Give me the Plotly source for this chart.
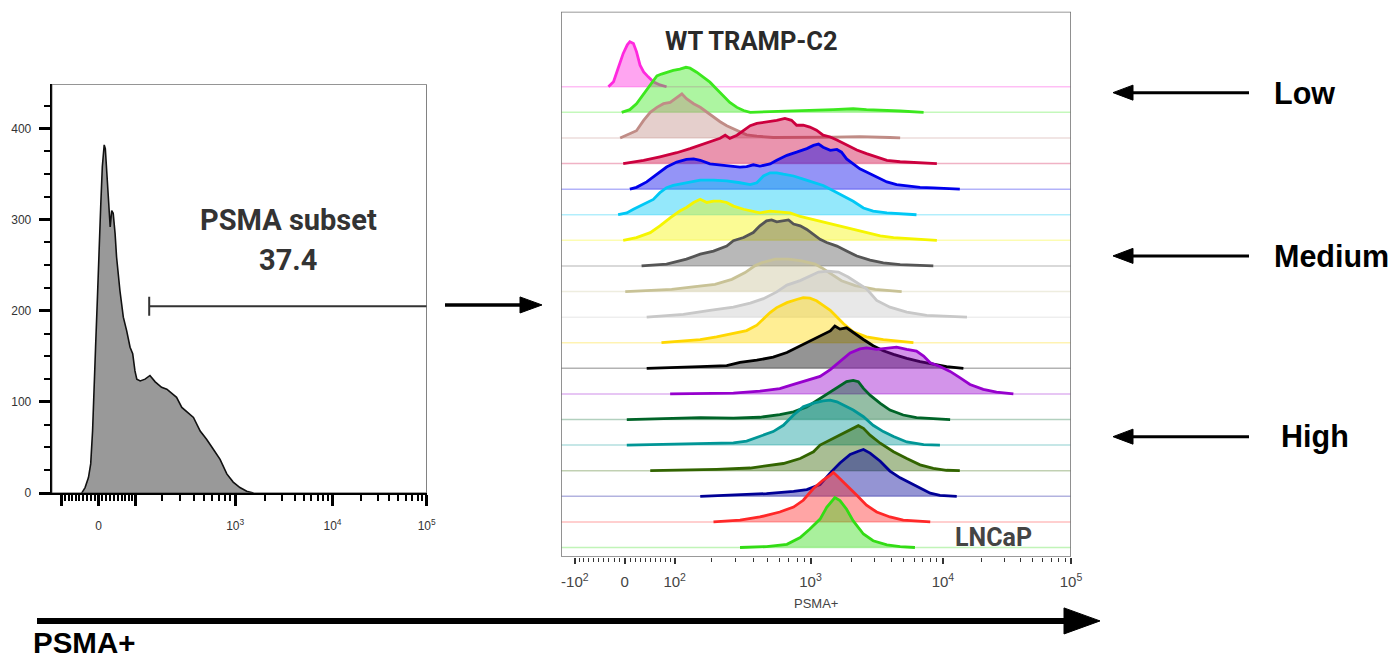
import numpy as np
import plotly.graph_objects as go

# The page body margin is removed after load. The rendered page area maps onto the 1390x662
# picture with a slight shrink, so the page is laid out at VIEW_W x VIEW_H and all positions
# below are given in target-picture pixels.
PAGE_MARGIN = 0
VIEW_W, VIEW_H = 1401, 670
TARGET_W, TARGET_H = 1390, 662
FIG_W, FIG_H = VIEW_W - 2 * PAGE_MARGIN, VIEW_H - 2 * PAGE_MARGIN

# ---------------- data ----------------
# Left panel: PSMA+ histogram (x in logicle display channels 0-1000, y in cell counts)
left_channel = [80, 89, 98, 104, 109, 113, 117, 122, 126, 131, 135, 140, 143, 147, 151, 156, 160, 164, 169, 173,
                182, 191, 200, 209, 216, 222, 227, 236, 249, 262, 276, 293, 307, 320, 333, 347, 360, 378, 396, 413,
                431, 449, 467, 484, 502, 520, 538]
left_count = [0, 6, 17, 32, 68, 105, 160, 215, 270, 318, 358, 382, 378, 350, 314, 292, 310, 307, 285, 259,
              222, 193, 178, 160, 153, 134, 125, 123, 125, 129, 122, 116, 114, 109, 105, 94, 89, 83, 68, 59,
              48, 37, 21, 12, 6, 2, 0]
gate_start_channel = 260
gate_end_channel = 1000
gate_level = 205
gate_name = "PSMA subset"
gate_percent = "37.4"
left_y_ticks = [0, 100, 200, 300, 400]
left_y_minor = list(range(0, 450, 25))

# Right panel: layered histograms, top row (WT TRAMP-C2) to bottom row (LNCaP)
# x = logicle display channel (0-1000), h = normalized count (% of mode)
ch_pink = [93, 103, 112, 122, 130, 135, 142, 148, 155, 162, 171, 181, 194, 207]
h_pink = [0, 11, 41, 74, 93, 100, 96, 78, 48, 33, 22, 11, 4, 0]
ch_green = [119, 135, 148, 162, 175, 188, 197, 207, 220, 233, 245, 253, 266, 279, 292, 305, 318, 331, 345, 358,
            371, 442, 469, 534, 573, 599, 665, 711]
h_green = [0, 6, 19, 41, 63, 81, 85, 89, 93, 96, 100, 98, 89, 78, 67, 52, 37, 22, 11, 4,
           0, 2, 4, 6, 8, 6, 3, 0]
ch_rosy = [116, 135, 148, 162, 175, 188, 201, 214, 227, 237, 246, 260, 273, 286, 299, 312, 325, 338, 351, 364,
           384, 416, 534, 586, 645, 665]
h_rosy = [0, 9, 16, 39, 57, 68, 76, 79, 90, 98, 87, 76, 68, 57, 46, 36, 27, 20, 13, 7,
          4, 1, 2, 3, 1, 0]
ch_crimson = [122, 162, 194, 227, 253, 273, 292, 312, 322, 331, 345, 358, 371, 384, 397, 410, 423, 439, 452, 462,
              475, 488, 501, 514, 528, 541, 560, 580, 599, 619, 639, 665, 730, 737]
h_crimson = [0, 7, 15, 24, 33, 41, 47, 56, 63, 56, 63, 74, 84, 89, 91, 93, 96, 100, 96, 85,
             85, 81, 74, 63, 59, 52, 41, 30, 22, 15, 7, 4, 1, 0]
ch_blue = [135, 148, 168, 181, 194, 207, 227, 246, 260, 273, 292, 312, 331, 351, 364, 377, 390, 410, 423, 443,
           462, 482, 495, 505, 514, 528, 541, 550, 560, 573, 586, 599, 619, 639, 658, 678, 704, 730, 763, 782]
h_blue = [0, 4, 16, 27, 38, 49, 60, 66, 67, 64, 56, 54, 51, 49, 50, 54, 51, 56, 64, 75,
          82, 90, 97, 100, 93, 86, 88, 82, 67, 56, 45, 38, 27, 16, 10, 7, 4, 3, 1, 0]
ch_cyan = [112, 129, 142, 162, 181, 194, 207, 220, 246, 273, 299, 325, 351, 371, 384, 397, 410, 423, 436, 456,
           475, 495, 514, 534, 554, 573, 593, 612, 639, 665, 697]
h_cyan = [0, 4, 12, 23, 34, 49, 60, 65, 71, 77, 77, 75, 71, 67, 71, 86, 93, 93, 90, 86,
          79, 71, 65, 53, 41, 30, 15, 8, 4, 2, 0]
ch_yellow = [122, 148, 175, 194, 214, 233, 246, 260, 273, 286, 299, 312, 325, 338, 358, 377, 390, 410, 429, 449,
             469, 495, 521, 547, 573, 599, 626, 652, 678, 704, 737]
h_yellow = [0, 6, 17, 32, 50, 65, 73, 84, 91, 84, 87, 87, 84, 76, 69, 65, 61, 65, 63, 61,
            53, 46, 39, 32, 24, 17, 10, 6, 4, 2, 0]
ch_gray = [158, 207, 246, 273, 299, 325, 338, 358, 377, 390, 403, 413, 423, 436, 446, 456, 469, 482, 495, 508,
           521, 541, 560, 580, 606, 632, 665, 730]
h_gray = [0, 4, 15, 26, 33, 44, 56, 63, 74, 89, 100, 102, 98, 100, 102, 93, 89, 81, 70, 59,
          52, 44, 33, 22, 13, 7, 3, 0]
ch_khaki = [126, 158, 217, 263, 302, 335, 361, 380, 394, 420, 446, 472, 498, 511, 531, 550, 577, 616, 668]
h_khaki = [0, 2, 5, 11, 16, 27, 42, 57, 64, 72, 72, 68, 61, 53, 39, 24, 13, 5, 0]
ch_silver = [168, 240, 292, 338, 371, 397, 423, 443, 469, 485, 505, 524, 544, 563, 583, 599, 619, 645, 678, 717, 796]
h_silver = [0, 6, 15, 22, 31, 41, 56, 71, 81, 89, 100, 102, 100, 89, 74, 63, 37, 22, 11, 4, 0]
ch_gold = [197, 233, 273, 305, 338, 364, 384, 397, 410, 423, 443, 462, 475, 488, 501, 514, 528, 541, 554, 573,
           599, 632, 665, 691]
h_gold = [0, 3, 7, 13, 20, 27, 39, 53, 67, 78, 89, 96, 100, 99, 93, 83, 72, 57, 42, 24,
          13, 7, 3, 0]
ch_black = [168, 207, 273, 325, 351, 384, 416, 443, 469, 488, 508, 528, 537, 547, 560, 573, 593, 612, 632, 652,
            678, 704, 730, 756, 789]
h_black = [0, 2, 4, 6, 13, 18, 25, 35, 50, 61, 72, 83, 94, 87, 90, 79, 64, 50, 39, 31,
           22, 15, 9, 4, 0]
ch_purple = [214, 260, 338, 390, 429, 456, 482, 508, 528, 547, 567, 586, 599, 619, 639, 658, 678, 697, 711, 724,
             743, 763, 782, 802, 828, 854, 887]
h_purple = [0, 1, 2, 6, 12, 21, 30, 39, 54, 73, 91, 100, 102, 99, 102, 104, 99, 95, 84, 69,
            61, 50, 36, 21, 10, 4, 0]
ch_darkgreen = [129, 207, 273, 338, 390, 429, 456, 482, 508, 528, 547, 560, 573, 583, 593, 606, 626, 645, 671, 697, 763]
h_darkgreen = [0, 3, 4, 3, 5, 11, 17, 28, 47, 61, 76, 84, 87, 84, 69, 54, 36, 21, 10, 4, 0]
ch_teal = [129, 207, 273, 338, 364, 390, 416, 436, 456, 475, 495, 514, 528, 541, 554, 573, 593, 612, 632, 652,
           678, 711, 743]
h_teal = [0, 2, 3, 5, 9, 19, 30, 44, 67, 85, 93, 98, 100, 96, 89, 78, 63, 44, 30, 19,
          7, 1, 0]
ch_olive = [175, 240, 305, 371, 403, 436, 469, 495, 508, 528, 547, 567, 583, 593, 606, 626, 652, 678, 704, 730, 756, 782]
h_olive = [0, 1, 3, 6, 11, 16, 27, 42, 57, 68, 79, 90, 100, 94, 79, 61, 42, 27, 13, 5, 1, 0]
ch_navy = [273, 338, 403, 456, 482, 508, 528, 547, 567, 583, 593, 606, 626, 645, 665, 684, 704, 724, 743, 776]
h_navy = [0, 3, 6, 11, 15, 26, 52, 74, 93, 100, 104, 96, 78, 56, 41, 30, 19, 7, 2, 0]
ch_red = [299, 351, 390, 429, 456, 475, 495, 514, 528, 534, 547, 564, 580, 599, 619, 645, 671, 724]
h_red = [0, 4, 11, 22, 33, 48, 74, 93, 104, 110, 96, 78, 59, 37, 22, 11, 4, 0]
ch_lightgreen = [351, 403, 443, 469, 488, 508, 521, 531, 537, 547, 560, 573, 593, 612, 639, 665, 694]
h_lightgreen = [0, 2, 7, 22, 41, 63, 89, 104, 111, 104, 85, 59, 30, 15, 6, 2, 0]

row_channels = [ch_pink, ch_green, ch_rosy, ch_crimson, ch_blue, ch_cyan, ch_yellow, ch_gray, ch_khaki, ch_silver,
                ch_gold, ch_black, ch_purple, ch_darkgreen, ch_teal, ch_olive, ch_navy, ch_red, ch_lightgreen]
row_heights = [h_pink, h_green, h_rosy, h_crimson, h_blue, h_cyan, h_yellow, h_gray, h_khaki, h_silver,
               h_gold, h_black, h_purple, h_darkgreen, h_teal, h_olive, h_navy, h_red, h_lightgreen]
row_colors = [(255, 40, 222), (60, 232, 30), (192, 140, 134), (204, 0, 62), (0, 0, 236), (0, 200, 245),
              (245, 245, 0), (85, 85, 85), (200, 194, 150), (200, 200, 200), (255, 215, 0), (0, 0, 0),
              (150, 0, 205), (0, 100, 40), (0, 150, 150), (50, 100, 0), (0, 0, 150), (255, 40, 40), (50, 220, 20)]
top_label = "WT TRAMP-C2"
bottom_label = "LNCaP"
axis_title = "PSMA+"

major_values = [-100, 0, 100, 1000, 10000, 100000]
right_tick_text = ["-10<sup>2</sup>", "0", "10<sup>2</sup>", "10<sup>3</sup>", "10<sup>4</sup>", "10<sup>5</sup>"]
left_tick_text = ["", "0", "", "10<sup>3</sup>", "10<sup>4</sup>", "10<sup>5</sup>"]
minor_values = ([-v for v in range(10, 100, 10)] + list(range(10, 100, 10)) + list(range(200, 1000, 100))
                + list(range(2000, 10000, 1000)) + list(range(20000, 100000, 10000)))
level_labels = ["Low", "Medium", "High"]


# ---------------- logicle scale (T=1e5, M=4, W=0.5, A=0) ----------------
def logicle_table(T=1e5, M=4.0, W=0.5, A=0.0, n=80001):
    w = W / (M + A)
    x2 = A / (M + A)
    x1 = x2 + w
    x0 = x2 + 2 * w
    b = (M + A) * np.log(10)
    lo, hi = 1e-9, b
    for _ in range(200):
        mid = 0.5 * (lo + hi)
        if 2 * (np.log(mid) - np.log(b)) + w * (b + mid) > 0:
            hi = mid
        else:
            lo = mid
    d = 0.5 * (lo + hi)
    ca = np.exp(x0 * (b + d))
    mfa = np.exp(b * x1) - ca / np.exp(d * x1)
    a = T / (np.exp(b) - mfa - ca / np.exp(d))
    c = ca * a
    f = -mfa * a

    def S(yy):
        return a * np.exp(b * yy) - c * np.exp(-d * yy) + f

    ys = np.linspace(0, 1, n)
    xs = np.where(ys >= x1, S(ys), -S(2 * x1 - ys))
    return ys, xs


_ys, _xs = logicle_table()


def to_channel(values):
    return list(1000 * np.interp(np.asarray(values, dtype=float), _xs, _ys))


major_ch = to_channel(major_values)
minor_ch = to_channel(minor_values)


# ---------------- helpers (target picture pixel -> paper) ----------------
def px(x):
    return (x * VIEW_W / TARGET_W - PAGE_MARGIN) / FIG_W


def py(y):
    return 1 - (y * VIEW_H / TARGET_H - PAGE_MARGIN) / FIG_H


def rgba(c, a):
    return f"rgba({c[0]},{c[1]},{c[2]},{a})"


fig = go.Figure()

# left histogram
fig.add_trace(go.Scatter(x=left_channel, y=left_count, mode="lines", fill="tozeroy",
                         fillcolor="#999999", line=dict(color="#111111", width=1.6),
                         xaxis="x", yaxis="y", hoverinfo="skip"))

# right layered histograms
ROW_STEP = 56.8
n_rows = len(row_channels)
for i in range(n_rows):
    off = (n_rows - 1 - i) * ROW_STEP
    col = row_colors[i]
    fig.add_trace(go.Scatter(x=[0, 1000], y=[off, off], mode="lines",
                             line=dict(color=rgba(col, 0.3), width=1.5),
                             xaxis="x2", yaxis="y2", hoverinfo="skip"))
    fig.add_trace(go.Scatter(x=row_channels[i], y=[off + h for h in row_heights[i]], mode="lines",
                             fill="toself", fillcolor=rgba(col, 0.42),
                             line=dict(color=rgba(col, 1), width=2.8),
                             xaxis="x2", yaxis="y2", hoverinfo="skip"))

shapes = []
# frames
shapes.append(dict(type="rect", xref="x", yref="y", x0=0, x1=1000, y0=0, y1=448.7,
                   line=dict(color="#444444", width=1.3), layer="above"))
shapes.append(dict(type="rect", xref="x2", yref="y2", x0=0, x1=1000, y0=-20.7, y1=1188.9,
                   line=dict(color="#777777", width=1.6), layer="above"))
# gate
shapes.append(dict(type="line", xref="x", yref="y", x0=gate_start_channel, x1=gate_end_channel,
                   y0=gate_level, y1=gate_level, line=dict(color="#333333", width=2)))
shapes.append(dict(type="line", xref="x", yref="y", x0=gate_start_channel, x1=gate_start_channel,
                   y0=gate_level - 10.5, y1=gate_level + 10.5, line=dict(color="#333333", width=2)))


def arrow(tail, tip, y, width, head_len, head_half):
    sgn = 1 if tip > tail else -1
    base = tip - sgn * head_len
    shapes.append(dict(type="line", xref="paper", yref="paper", x0=px(tail), x1=px(base + sgn * 1),
                       y0=py(y), y1=py(y), line=dict(color="black", width=width)))
    path = (f"M {px(base)},{py(y - head_half)} L {px(tip)},{py(y)} "
            f"L {px(base)},{py(y + head_half)} Z")
    shapes.append(dict(type="path", xref="paper", yref="paper", path=path,
                       fillcolor="black", line=dict(color="black", width=1)))


arrow(37, 1100, 620, 6, 36, 13)
arrow(445, 542, 304.5, 3.5, 22, 8)
arrow(1249, 1113, 92.5, 3, 20, 7.5)
arrow(1249, 1113, 255.5, 3, 20, 7.5)
arrow(1249, 1113, 436, 3, 20, 7.5)

annotations = []


def text(s, x, y, size, family, color="#000000", xanchor="center", bold=False):
    annotations.append(dict(text=f"<b>{s}</b>" if bold else s, x=px(x), y=py(y), xref="paper", yref="paper",
                            xanchor=xanchor, yanchor="middle", showarrow=False,
                            font=dict(size=size, family=family, color=color)))


text(gate_name, 288, 220, 29, "Roboto", "#333333", bold=True)
text(gate_percent, 288, 260, 29, "Roboto", "#333333", bold=True)
text(top_label, 751, 41, 25.5, "Roboto", "#2a2a2a", bold=True)
text(bottom_label, 993, 537, 25, "Roboto", "#444444", bold=True)
text(axis_title, 816, 603, 13, "Liberation Sans", "#444444")
text(level_labels[0], 1272, 93, 30.5, "Liberation Sans", xanchor="left", bold=True)
text(level_labels[1], 1272, 256, 30.5, "Liberation Sans", xanchor="left", bold=True)
text(level_labels[2], 1279, 436, 30.5, "Liberation Sans", xanchor="left", bold=True)
text(axis_title, 31, 642, 29.5, "Liberation Sans", xanchor="left", bold=True)

fig.update_layout(
    width=FIG_W, height=FIG_H, margin=dict(l=0, r=0, t=0, b=0),
    paper_bgcolor="white", plot_bgcolor="white", showlegend=False,
    shapes=shapes, annotations=annotations,
    xaxis=dict(domain=[px(51.7), px(426.7)], range=[0, 1000.01], anchor="y",
               tickmode="array", tickvals=major_ch, ticktext=left_tick_text,
               ticks="outside", ticklen=11, tickwidth=2.5, tickcolor="black",
               showline=True, linewidth=2, linecolor="black", showgrid=False, zeroline=False,
               tickfont=dict(size=12, family="Liberation Sans", color="#333333"), ticklabelstandoff=10,
               minor=dict(tickvals=minor_ch, ticks="outside", ticklen=6, tickwidth=1.5,
                          tickcolor="black", showgrid=False)),
    yaxis=dict(domain=[py(492.3), py(84)], range=[0, 448.7], anchor="x",
               tickmode="array", tickvals=left_y_ticks,
               ticks="outside", ticklen=11, tickwidth=2.5, tickcolor="black",
               showline=True, linewidth=2, linecolor="black", showgrid=False, zeroline=False,
               tickfont=dict(size=12, family="Liberation Sans", color="#333333"), ticklabelstandoff=5,
               minor=dict(tickvals=left_y_minor, ticks="outside", ticklen=6, tickwidth=1.5,
                          tickcolor="black", showgrid=False)),
    xaxis2=dict(domain=[px(561), px(1071)], range=[0, 1000.01], anchor="y2",
                tickmode="array", tickvals=major_ch, ticktext=right_tick_text,
                ticks="outside", ticklen=6, tickwidth=1.5, tickcolor="#333333",
                showline=False, showgrid=False, zeroline=False,
                tickfont=dict(size=15, family="Liberation Sans", color="#444444"), ticklabelstandoff=5,
                minor=dict(tickvals=minor_ch, ticks="outside", ticklen=4, tickwidth=1.2,
                           tickcolor="#333333", showgrid=False)),
    yaxis2=dict(domain=[py(556), py(11.7)], range=[-20.7, 1188.9], anchor="x2",
                showticklabels=False, ticks="", showline=False, showgrid=False, zeroline=False),
)

fig.write_html("out.html", config={"displayModeBar": False},
               post_script="document.body.style.margin='0px';")
